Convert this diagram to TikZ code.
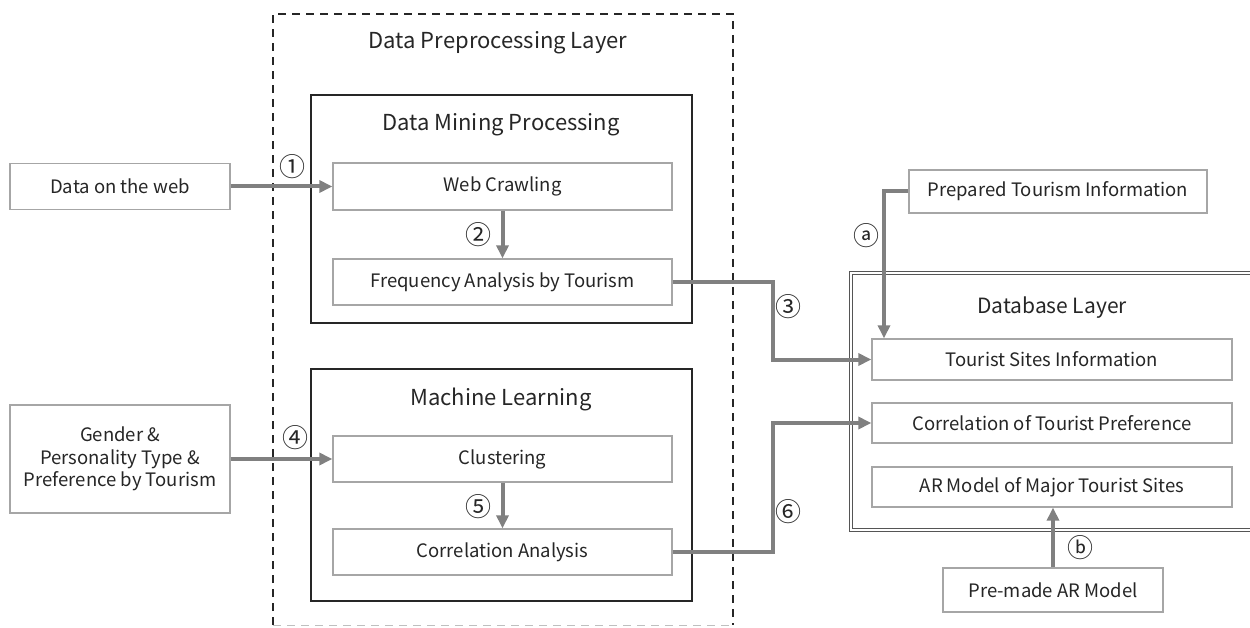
\documentclass[tikz,border=0pt]{standalone}
\usepackage{fontspec}
\setmainfont{Noto Sans CJK KR}
\usetikzlibrary{arrows.meta,calc}
\definecolor{flowgray}{HTML}{808080}
\definecolor{boxgray}{HTML}{A6A6A6}
\definecolor{dbline}{HTML}{555555}
\tikzset{
  item/.style={draw=boxgray, line width=1.3pt, fill=white, inner sep=0pt,
    align=center, font=\fontsize{18.5}{22.5}\selectfont, text=black!85},
  group/.style={draw=black!85, line width=1.6pt},
  layer/.style={draw=black!85, line width=1.4pt, dash pattern=on 8pt off 6pt},
  heading/.style={font=\fontsize{22}{26}\selectfont, text=black!85},
  flow/.style={draw=flowgray, line width=4pt,
    -{Triangle[length=13pt,width=12pt]}},
  tag/.style={font=\fontsize{26}{28}\selectfont, text=black!85, inner sep=0pt}
}
\begin{document}
\begin{tikzpicture}[x=1pt,y=-1pt]
\useasboundingbox (0,0) rectangle (1250,628);

% Data preprocessing layer (dashed frame)
\draw[layer] (273,625) -- (273,14) -- (733,14) -- (733,625);
\draw[layer, draw=black!25, line width=1pt] (273,625) -- (733,625);
\node[heading] (dpl) at (498,43) {Data Preprocessing Layer};

% Data mining group
\draw[group] (311,95) rectangle (692,323);
\node[heading] (dmp) at (501,125) {Data Mining Processing};
\node[item, minimum width=339pt, minimum height=47pt] (crawl) at (502.5,186.5) {Web Crawling};
\node[item, minimum width=339pt, minimum height=46pt] (freq) at (502.5,282) {Frequency Analysis by Tourism};

% Machine learning group
\draw[group] (311,369) rectangle (692,601);
\node[heading] (ml) at (501,399) {Machine Learning};
\node[item, minimum width=339pt, minimum height=46pt] (clus) at (502.5,459) {Clustering};
\node[item, minimum width=339pt, minimum height=46pt] (corr) at (502.5,552) {Correlation Analysis};

% Inputs on the left
\node[item, minimum width=220pt, minimum height=46pt] (web) at (120,186.5) {Data on the web};
\node[item, minimum width=220pt, minimum height=108pt] (gender) at (120,459)
  {Gender \&\\Personality Type \&\\Preference by Tourism};

% Database layer (double frame, open to the right)
\draw[draw=dbline, line width=0.9pt, double=white, double distance=2.2pt]
  (1260,273) -- (851,273) -- (851,530) -- (1260,530);
\node[heading, font=\fontsize{21}{24}\selectfont] (dbl) at (1052,308) {Database Layer};
\node[item, minimum width=360pt, minimum height=41pt] (tsi) at (1052,359.5) {Tourist Sites Information};
\node[item, minimum width=360pt, minimum height=40pt] (ctp) at (1052,423) {Correlation of Tourist Preference};
\node[item, minimum width=360pt, minimum height=40pt] (arm) at (1052,487) {AR Model of Major Tourist Sites};

% External sources on the right
\node[item, minimum width=298pt, minimum height=43pt] (prep) at (1058,191.5) {Prepared Tourism Information};
\node[item, minimum width=220pt, minimum height=44pt] (pre) at (1053,590) {Pre-made AR Model};

% Routing columns
\coordinate (bus) at (773,0);
\coordinate (ax) at (884,0);

% Connectors
\draw[flow] (web.east) -- (crawl.west);
\draw[flow] (crawl.south) -- (freq.north);
\draw[flow] (freq.east) -| (bus |- tsi.west) -- (tsi.west);
\draw[flow] (gender.east) -- (clus.west);
\draw[flow] (clus.south) -- (corr.north);
\draw[flow] (corr.east) -| (bus |- ctp.west) -- (ctp.west);
\draw[flow] (prep.west) -| (ax |- tsi.north);
\draw[flow] (pre.north) -- (pre.north |- arm.south);

% Step tags
\node[tag] (t1) at (292,167) {①};
\node[tag] (t2) at (478,235) {②};
\node[tag] (t3) at (788,307) {③};
\node[tag] (t4) at (295,438) {④};
\node[tag] (t5) at (478,507) {⑤};
\node[tag] (t6) at (788,512) {⑥};
\node[tag] (ta) at (866,236) {ⓐ};
\node[tag] (tb) at (1080,548) {ⓑ};
\end{tikzpicture}
\end{document}
